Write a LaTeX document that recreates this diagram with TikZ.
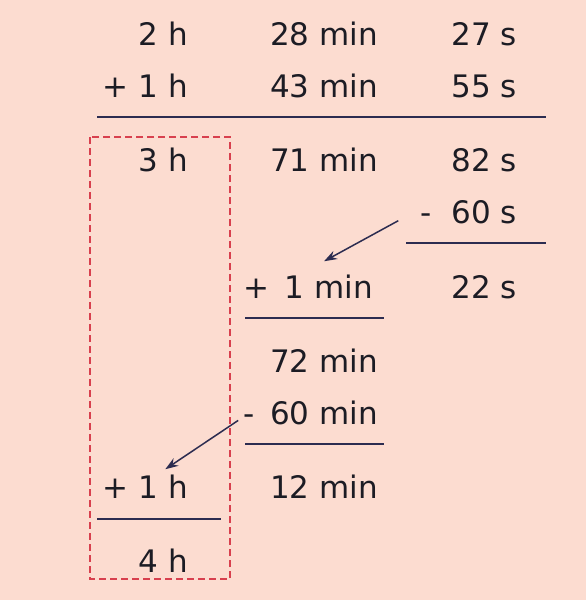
\documentclass[tikz,border=0pt]{standalone}
\usepackage{fontspec}
\setmainfont{DejaVu Sans}
\usepackage{tikz}
\usetikzlibrary{arrows.meta, calc}
\definecolor{paper}{HTML}{FCDCD0}
\definecolor{ink}{HTML}{1C1C24}
\definecolor{rule}{HTML}{2C2C50}
\definecolor{boxred}{HTML}{D8404E}
\tikzstyle{num} = [anchor=base east, inner sep=0pt, text=ink, font=\fontsize{31}{36}\selectfont]
\tikzstyle{bar} = [draw=rule, line width=1.6pt]
\tikzstyle{line} = [draw=rule, line width=1.5pt, -{Stealth[length=13pt,width=9pt]}]

\begin{document}
\begin{tikzpicture}[x=1pt,y=-1pt]
            \fill[paper] (0,0) rectangle (586,600);
            \useasboundingbox (0,0) rectangle (586,600);

            % hours
            \node[num] (h-1) at (188,45) {2 h};
            \node[num] (h-2) at (188,97) {+ 1 h};
            \node[num] (h-3) at (188,171) {3 h};
            \node[num] (h-8) at (188,498) {+ 1 h};
            \node[num] (h-9) at (188,572) {4 h};

            % minutes
            \node[num] (min-1) at (378,45) {28 min};
            \node[num] (min-2) at (378,97) {43 min};
            \node[num] (min-3) at (378,171) {71 min};
            \node[num] (min-5) at (373,298) {+\hspace{0.5em}1 min};
            \node[num] (min-6) at (378,372) {72 min};
            \node[num] (min-7) at (378,424) {-\hspace{0.5em}60 min};
            \node[num] (min-8) at (378,498) {12 min};

            % seconds
            \node[num] (s-1) at (517,45) {27 s};
            \node[num] (s-2) at (517,97) {55 s};
            \node[num] (s-3) at (517,171) {82 s};
            \node[num] (s-4) at (517,223) {-\ \ 60 s};
            \node[num] (s-5) at (517,298) {22 s};

            % rules
            \draw[bar] (97,117) -- (546,117);
            \draw[bar] (406,243) -- (546,243);
            \draw[bar] (245,318) -- (384,318);
            \draw[bar] (245,444) -- (384,444);
            \draw[bar] (97,519) -- (221,519);

            % carries
            \draw[line] ($(s-4.west)+(-22,9)$) -- ($(min-5.north)+(16,-13)$);
            \draw[line] ($(min-7.west)+(-5,8)$) -- ($(h-8.north)+(20,-5)$);

            \draw[boxred, dashed, line width=1.3pt, dash pattern=on 7pt off 4pt] (90,137) rectangle (230,579);
        \end{tikzpicture}
\end{document}
